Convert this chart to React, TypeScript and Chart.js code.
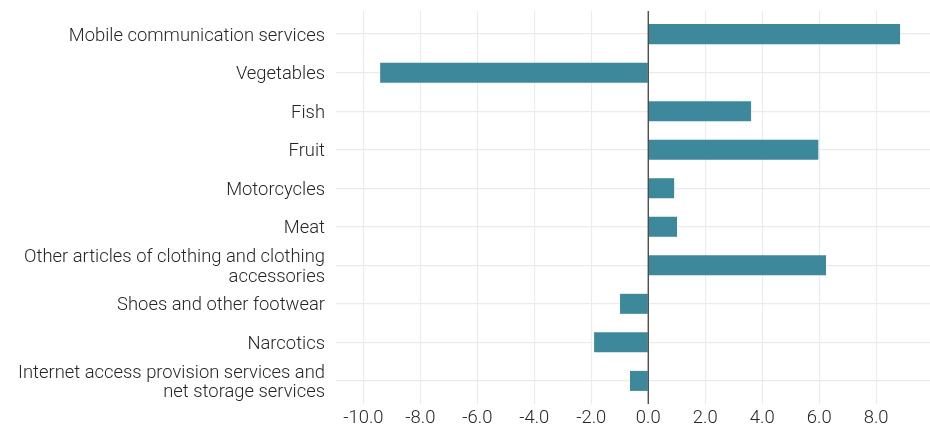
import React, { useEffect, useRef } from "react";
import { Chart, registerables } from "chart.js";

Chart.register(...registerables);

const categories: string[] = [
  "Mobile communication services",
  "Vegetables",
  "Fish",
  "Fruit",
  "Motorcycles",
  "Meat",
  "Other articles of clothing and clothing\naccessories",
  "Shoes and other footwear",
  "Narcotics",
  "Internet access provision services and\nnet storage services",
];

const values: number[] = [8.84, -9.41, 3.61, 5.97, 0.91, 1.01, 6.24, -0.99, -1.9, -0.64];

const xTickValues: number[] = [-10, -8, -6, -4, -2, 0, 2, 4, 6, 8];

const FONT = "Roboto, 'Noto Sans', sans-serif";

const zeroLine = {
  id: "zeroLine",
  afterDatasetsDraw(chart: any) {
    const { ctx, chartArea, scales } = chart;
    const x = scales.x.getPixelForValue(0);
    ctx.save();
    ctx.strokeStyle = "#333333";
    ctx.lineWidth = 1.2;
    ctx.beginPath();
    ctx.moveTo(x, chartArea.top);
    ctx.lineTo(x, chartArea.bottom);
    ctx.stroke();
    ctx.restore();
  },
};

export default function App() {
  const ref = useRef<HTMLCanvasElement | null>(null);

  useEffect(() => {
    document.body.style.margin = "0";
    if (!ref.current) return;
    const chart = new Chart(ref.current, {
      type: "bar",
      data: {
        datasets: [
          {
            data: values.map((v, i) => ({ x: v, y: i })),
            backgroundColor: "#3D899B",
            borderWidth: 0,
            barPercentage: 0.52,
            categoryPercentage: 1,
          },
        ],
      },
      options: {
        indexAxis: "y",
        animation: false,
        responsive: false,
        maintainAspectRatio: false,
        layout: { padding: { top: 11, right: 0, left: 0, bottom: 0 } },
        plugins: { legend: { display: false }, tooltip: { enabled: false } },
        scales: {
          x: {
            type: "linear",
            min: -10.96,
            max: 9.89,
            afterBuildTicks: (scale: any) => {
              scale.ticks = xTickValues.map((v) => ({ value: v }));
            },
            afterFit: (scale: any) => {
              scale.height = 24;
              scale.paddingLeft = 0;
              scale.paddingRight = 0;
            },
            grid: { color: "#ebebeb", lineWidth: 1.1, drawTicks: false },
            border: { display: false },
            ticks: {
              padding: 3,
              color: "#262626",
              font: { family: FONT, size: 18.4, weight: 300 },
              callback: (v: any) => Number(v).toFixed(1),
            },
          },
          y: {
            type: "linear",
            reverse: true,
            offset: false,
            min: -0.6,
            max: 9.6,
            afterBuildTicks: (scale: any) => {
              scale.ticks = categories.map((_, i) => ({ value: i }));
            },
            afterFit: (scale: any) => {
              scale.width = 336;
              scale.paddingTop = 0;
              scale.paddingBottom = 0;
            },
            grid: { color: "#ebebeb", lineWidth: 1.3, drawTicks: false, offset: false },
            border: { display: false },
            ticks: {
              autoSkip: false,
              padding: 11,
              labelOffset: 2,
              color: "#262626",
              font: { family: FONT, size: 18.4, weight: 300, lineHeight: 1.08 },
              callback: (v: any) => {
                const label = categories[Math.round(Number(v))];
                return label ? label.split("\n") : "";
              },
            },
          },
        },
      },
      plugins: [zeroLine],
    } as any);
    return () => chart.destroy();
  }, []);

  return (
    <div style={{ width: 930, height: 428 }}>
      <canvas ref={ref} width={930} height={428} style={{ width: 930, height: 428 }} />
    </div>
  );
}
